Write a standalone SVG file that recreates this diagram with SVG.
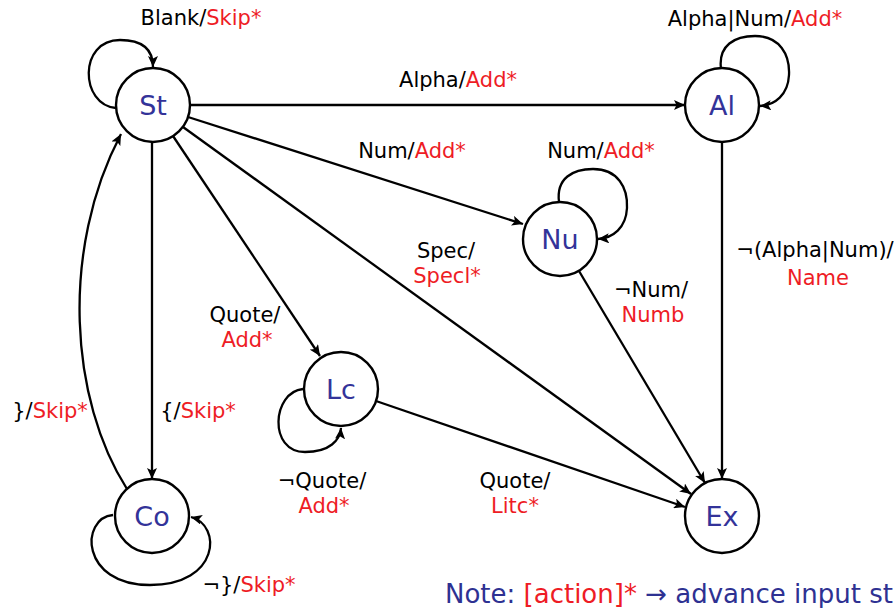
<svg xmlns="http://www.w3.org/2000/svg" width="894" height="608" viewBox="0 0 894 608">
<defs>
<marker id="arr" viewBox="0 0 11 10" refX="11" refY="5" markerWidth="11" markerHeight="10" markerUnits="userSpaceOnUse" orient="auto">
<path d="M0,0 L11,5 L0,10 L2.5,5 z" fill="#000"/>
</marker>
<style>
.node circle{fill:#fff;stroke:#000;stroke-width:2.4}
.node text{font-family:"DejaVu Sans",sans-serif;font-size:27px;fill:#333399;text-anchor:middle}
.edges path{fill:none;stroke:#000;stroke-width:2.3;marker-end:url(#arr)}
.lbl{font-family:"DejaVu Sans",sans-serif;font-size:21px;fill:#000;text-anchor:middle}
.r{fill:#ee1c25}
.note{font-family:"DejaVu Sans",sans-serif;font-size:26px;fill:#2e3192}
</style>
</defs>
<rect width="894" height="608" fill="#fff"/>
<g class="edges" id="connectors">
<path d="M116,108 C80,105 78,40 120,40 C145,40 153,52 153,67"/>
<path d="M190,105 L685,105"/>
<path d="M721,69 C718,45 735,36 755,36 C780,36 790,55 789,75 C788,95 775,105 760,106"/>
<path d="M188,117 L523,224"/>
<path d="M559,202 C556,178 573,169 593,169 C618,169 628,188 627,208 C626,228 613,238 598,239"/>
<path d="M183,127 L691,494"/>
<path d="M173,136 L320,356"/>
<path d="M152,142 L152,479"/>
<path d="M127,489 C70,400 60,250 121,134"/>
<path d="M113,515 C80,518 80,585 150,585 C220,585 222,525 191,517"/>
<path d="M303,389 C272,392 268,452 305,452 C330,452 340,440 341,428"/>
<path d="M376,401 L685,507"/>
<path d="M579,271 L705,483"/>
<path d="M722,142 L722,479"/>
</g>
<g id="St" class="node"><circle cx="153" cy="105" r="37"/><text x="153" y="115">St</text></g>
<g id="Al" class="node"><circle cx="722" cy="105" r="37"/><text x="722" y="115">Al</text></g>
<g id="Nu" class="node"><circle cx="560" cy="239" r="37"/><text x="560" y="249">Nu</text></g>
<g id="Lc" class="node"><circle cx="341" cy="389" r="37"/><text x="341" y="399">Lc</text></g>
<g id="Co" class="node"><circle cx="152" cy="516" r="37"/><text x="152" y="526">Co</text></g>
<g id="Ex" class="node"><circle cx="722" cy="516" r="37"/><text x="722" y="526">Ex</text></g>
<g id="labels">
<text class="lbl" x="201" y="25">Blank/<tspan class="r">Skip*</tspan></text>
<text class="lbl" x="755" y="26">Alpha|Num/<tspan class="r">Add*</tspan></text>
<text class="lbl" x="458" y="87">Alpha/<tspan class="r">Add*</tspan></text>
<text class="lbl" x="412" y="158">Num/<tspan class="r">Add*</tspan></text>
<text class="lbl" x="601" y="158">Num/<tspan class="r">Add*</tspan></text>
<text class="lbl" x="446" y="258">Spec/</text>
<text class="lbl r" x="447" y="283">Specl*</text>
<text class="lbl" x="245" y="322">Quote/</text>
<text class="lbl r" x="247" y="347">Add*</text>
<text class="lbl" x="651" y="297">¬Num/</text>
<text class="lbl r" x="653" y="322">Numb</text>
<text class="lbl" x="815" y="257">¬(Alpha|Num)/</text>
<text class="lbl r" x="818" y="285">Name</text>
<text class="lbl" x="198" y="418">{/<tspan class="r">Skip*</tspan></text>
<text class="lbl" x="50" y="418">}/<tspan class="r">Skip*</tspan></text>
<text class="lbl" x="322" y="488">¬Quote/</text>
<text class="lbl r" x="324" y="513">Add*</text>
<text class="lbl" x="249" y="592">¬}/<tspan class="r">Skip*</tspan></text>
<text class="lbl" x="515" y="488">Quote/</text>
<text class="lbl r" x="515" y="513">Litc*</text>
<text class="note" x="445" y="603">Note: <tspan class="r">[action]*</tspan> → advance input stream</text>
</g>
</svg>
